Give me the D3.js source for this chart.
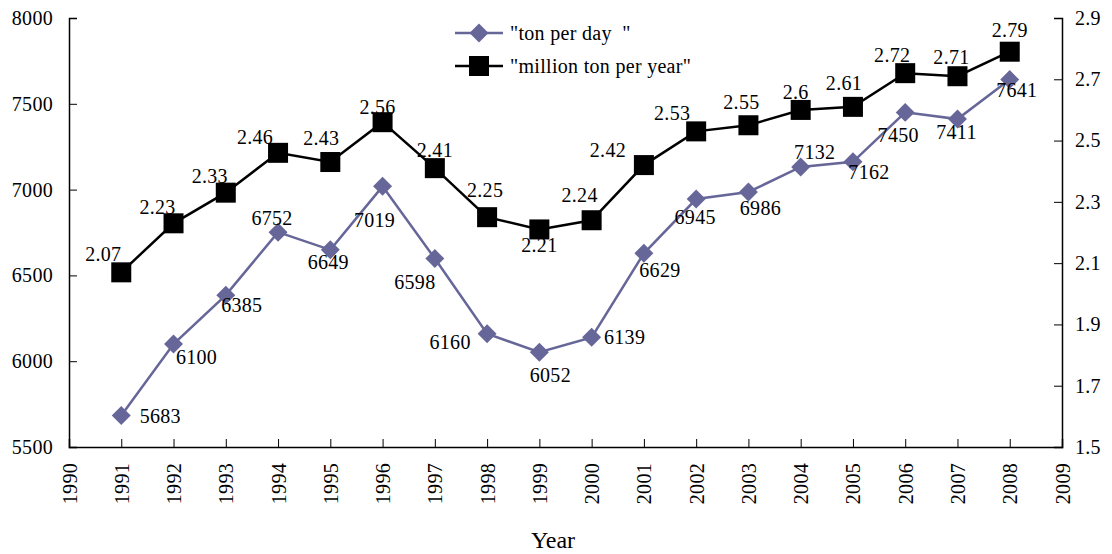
<!DOCTYPE html>
<html>
<head>
<meta charset="utf-8">
<script src="https://cdn.jsdelivr.net/npm/d3@7"></script>
<style>
  body { margin: 0; background: #fff; }
  svg text { font-family: "Liberation Serif", "Times New Roman", serif; fill: #000; }
</style>
</head>
<body>
<svg id="chart"></svg>
<script>
// data
var years = [1991, 1992, 1993, 1994, 1995, 1996, 1997, 1998, 1999, 2000,
             2001, 2002, 2003, 2004, 2005, 2006, 2007, 2008];
var tonPerDay = [5683, 6100, 6385, 6752, 6649, 7019, 6598, 6160, 6052, 6139,
                 6629, 6945, 6986, 7132, 7162, 7450, 7411, 7641];
var millionTonPerYear = [2.07, 2.23, 2.33, 2.46, 2.43, 2.56, 2.41, 2.25, 2.21, 2.24,
                         2.42, 2.53, 2.55, 2.6, 2.61, 2.72, 2.71, 2.79];
var leftTicks = [5500, 6000, 6500, 7000, 7500, 8000];
var rightTicks = [1.5, 1.7, 1.9, 2.1, 2.3, 2.5, 2.7, 2.9];
var yearTicks = d3.range(1990, 2010);
var seriesNames = ["\"ton per day  \"", "\"million ton per year\""];

// label nudges (px) so the value labels sit like in the original
var dayLabelShift = [[39,0],[23,13],[16,10],[-6,-14],[-2,12],[-8,34],[-20,23],[-37,8],[11,23],[33,0],
                     [16,17],[-1,18],[12,16],[14,-15],[16,10],[-7,23],[-1,13],[7,10]];
var yearLabelShift = [[-18,-18],[-16,-16],[-16,-17],[-23,-16],[-9,-24],[-5,-15],[0,-18],[-2,-27],[0,16],[-12,-25],
                      [-36,-15],[-24,-18],[-7,-23],[-5,-18],[-9,-24],[-13,-18],[-6,-19],[0,-22]];

var W = 1112, H = 554;
var plotLeft = 69, plotRight = 1062, plotTop = 18, plotBottom = 447;
var purple = "#666699";
var fontSize = 20, spacing = 0.3;

var svg = d3.select("#chart").attr("width", W).attr("height", H);

var x = d3.scaleLinear().domain([1990, 2009]).range([plotLeft, plotRight]);
var yL = d3.scaleLinear().domain([5500, 8000]).range([plotBottom, plotTop]);
var yR = d3.scaleLinear().domain([1.5, 2.9]).range([plotBottom, plotTop]);

// axes
var gL = svg.append("g")
    .attr("transform", "translate(" + plotLeft + ",0)")
    .call(d3.axisRight(yL).tickValues(leftTicks).tickSize(8).tickFormat(d3.format("d")));
gL.selectAll("text").attr("x", -16).style("text-anchor", "end");

var gR = svg.append("g")
    .attr("transform", "translate(" + plotRight + ",0)")
    .call(d3.axisLeft(yR).tickValues(rightTicks).tickSize(8).tickFormat(d3.format(".1f")));
gR.selectAll("text").attr("x", 13).style("text-anchor", "start");

var gX = svg.append("g")
    .attr("transform", "translate(0," + plotBottom + ")")
    .call(d3.axisTop(x).tickValues(yearTicks).tickSize(8).tickFormat(d3.format("d")));
gX.selectAll("text")
    .attr("transform", "rotate(-90)")
    .attr("x", -16).attr("y", 0).attr("dy", "0.35em")
    .style("text-anchor", "end");

[gL, gR, gX].forEach(g => {
  g.select(".domain").attr("stroke", "#000").attr("stroke-width", 1.5);
  g.selectAll(".tick line").attr("stroke", "#000").attr("stroke-width", 1);
  g.selectAll("text").attr("font-size", fontSize).attr("letter-spacing", spacing)
    .attr("font-family", "Liberation Serif");
});

svg.append("text")
    .attr("x", 553).attr("y", 548)
    .attr("text-anchor", "middle")
    .attr("font-size", 24)
    .text("Year");

// lines
var lineDay = d3.line().x((d, i) => x(years[i])).y(d => yL(d));
var lineYear = d3.line().x((d, i) => x(years[i])).y(d => yR(d));

svg.append("path")
    .datum(tonPerDay)
    .attr("d", lineDay)
    .attr("fill", "none")
    .attr("stroke", purple)
    .attr("stroke-width", 2.5);

svg.append("path")
    .datum(millionTonPerYear)
    .attr("d", lineYear)
    .attr("fill", "none")
    .attr("stroke", "#000")
    .attr("stroke-width", 2.5);

var diamond = d3.symbol().type(d3.symbolSquare).size(180);

svg.selectAll(".day-marker")
    .data(tonPerDay)
  .enter().append("path")
    .classed("day-marker", true)
    .attr("d", diamond)
    .attr("transform", (d, i) => "translate(" + x(years[i]) + "," + yL(d) + ") rotate(45)")
    .attr("fill", purple);

svg.selectAll(".year-marker")
    .data(millionTonPerYear)
  .enter().append("rect")
    .classed("year-marker", true)
    .attr("x", (d, i) => x(years[i]) - 10)
    .attr("y", d => yR(d) - 10)
    .attr("width", 20).attr("height", 20)
    .attr("fill", "#000");

// value labels
svg.selectAll(".day-label")
    .data(tonPerDay)
  .enter().append("text")
    .classed("day-label", true)
    .attr("x", (d, i) => x(years[i]) + dayLabelShift[i][0])
    .attr("y", (d, i) => yL(d) + dayLabelShift[i][1])
    .attr("dy", "0.35em")
    .attr("text-anchor", "middle")
    .attr("font-size", fontSize).attr("letter-spacing", spacing)
    .text(d => d);

svg.selectAll(".year-label")
    .data(millionTonPerYear)
  .enter().append("text")
    .classed("year-label", true)
    .attr("x", (d, i) => x(years[i]) + yearLabelShift[i][0])
    .attr("y", (d, i) => yR(d) + yearLabelShift[i][1])
    .attr("dy", "0.35em")
    .attr("text-anchor", "middle")
    .attr("font-size", fontSize).attr("letter-spacing", spacing)
    .text(d => d);

// legend
var legend = svg.append("g").attr("transform", "translate(455,33)");

legend.append("line").attr("x1", 0).attr("x2", 48).attr("y1", 0).attr("y2", 0)
    .attr("stroke", purple).attr("stroke-width", 2.5);
legend.append("path").attr("d", diamond).attr("transform", "translate(24,0) rotate(45)")
    .attr("fill", purple);
legend.append("text").attr("x", 55).attr("y", 0).attr("dy", "0.35em")
    .attr("font-size", fontSize).attr("letter-spacing", spacing)
    .style("white-space", "pre")
    .text(seriesNames[0]);

legend.append("line").attr("x1", 0).attr("x2", 48).attr("y1", 33).attr("y2", 33)
    .attr("stroke", "#000").attr("stroke-width", 2.5);
legend.append("rect").attr("x", 14).attr("y", 23).attr("width", 20).attr("height", 20)
    .attr("fill", "#000");
legend.append("text").attr("x", 55).attr("y", 33).attr("dy", "0.35em")
    .attr("font-size", fontSize).attr("letter-spacing", spacing)
    .text(seriesNames[1]);
</script>
</body>
</html>
